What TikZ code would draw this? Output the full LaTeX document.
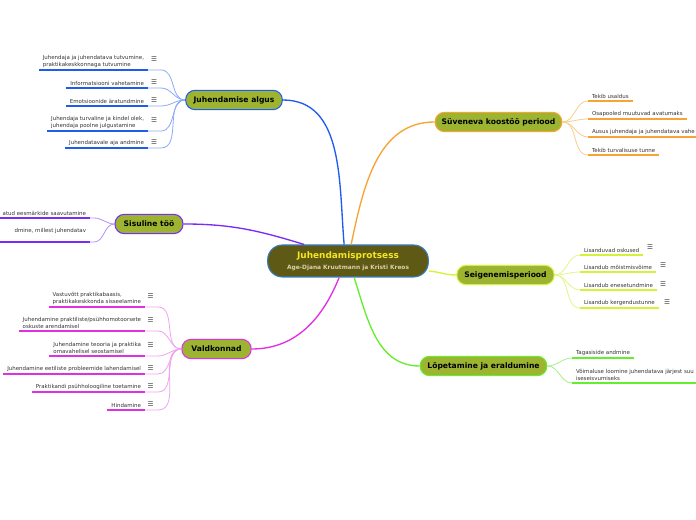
\documentclass[tikz,border=0pt]{standalone}
\usepackage{fontspec}
\setmainfont{DejaVu Sans}
\usetikzlibrary{calc}
\definecolor{blueM}{HTML}{1F5BEF}
\definecolor{blueT}{HTML}{8CAAF5}
\definecolor{purpM}{HTML}{7B2BF7}
\definecolor{purpT}{HTML}{B592FA}
\definecolor{magM}{HTML}{E030E6}
\definecolor{magT}{HTML}{F2A2F2}
\definecolor{oraM}{HTML}{F7A435}
\definecolor{oraT}{HTML}{F9CE8A}
\definecolor{yelM}{HTML}{D5F23A}
\definecolor{yelT}{HTML}{E3F58A}
\definecolor{greM}{HTML}{66EE2E}
\definecolor{greT}{HTML}{A6F08A}
\definecolor{topicf}{HTML}{9DB431}
\definecolor{cenf}{HTML}{5F5916}
\definecolor{cenb}{HTML}{3A7DC4}
\definecolor{titc}{HTML}{F5E71E}
\definecolor{subc}{HTML}{D9D3A6}
\definecolor{leafc}{HTML}{333333}
\definecolor{icoc}{HTML}{444444}
\begin{document}
\begin{tikzpicture}[x=0.75pt,y=0.75pt,
  leaf/.style={font=\fontsize{4.1}{5.3}\selectfont, text=leafc, align=left, inner xsep=3pt, inner ysep=1.6pt, outer sep=0pt},
  ico/.style={font=\fontsize{5}{5}\selectfont, text=icoc, inner sep=0pt},
  topic/.style={draw=#1, line width=0.8pt, fill=topicf, rounded corners=7pt, font=\fontsize{5.7}{6}\selectfont\bfseries, minimum height=14.5pt, inner xsep=3pt},
  ul/.style={line width=1.5pt, draw=#1},
  con/.style={line width=0.6pt, draw=#1},
  mainc/.style={line width=1pt, draw=#1}]
\useasboundingbox (0,0) rectangle (696,520);
\fill[white] (0,0) rectangle (696,520);

% centre
\node[draw=cenb, line width=0.8pt, fill=cenf, rounded corners=11pt, minimum width=120.5pt, minimum height=24pt, align=center, inner sep=1pt, font=\fontsize{5}{8.5}\selectfont] (cen) at (348,259)
  {{\fontsize{6.7}{8}\selectfont\bfseries\color{titc}Juhendamisprotsess}\\{\fontsize{4.4}{5}\selectfont\bfseries\color{subc}Age-Djana Kruutmann ja Kristi Kreos}};

% topics
\node[topic=blueM, minimum width=72.5pt] (algus) at (234,420) {Juhendamise algus};
\node[topic=purpM, minimum width=51pt] (sisu) at (149,296) {Sisuline töö};
\node[topic=magM, minimum width=52pt] (vald) at (216.5,171) {Valdkonnad};
\node[topic=oraM, minimum width=95pt] (suv) at (498.5,398) {Süveneva koostöö periood};
\node[topic=yelM, minimum width=73pt] (sei) at (505.5,245) {Seigenemisperiood};
\node[topic=greM, minimum width=95pt] (lop) at (483.5,154) {Lõpetamine ja eraldumine};

% main connectors
\draw[mainc=blueM] ($(cen.north west)+(77,0)$) to[out=95,in=0] (algus.east);
\draw[mainc=purpM] ($(cen.north west)+(37,0)$) to[out=163,in=0] (sisu.east);
\draw[mainc=magM] ($(cen.south west)+(72,0)$) to[out=-112,in=0] (vald.east);
\draw[mainc=oraM] ($(cen.north west)+(84,0)$) to[out=78,in=180] (suv.west);
\draw[mainc=yelM] ($(cen.east)+(0,-10)$) to[out=-5,in=180] (sei.west);
\draw[mainc=greM] ($(cen.south west)+(87,0)$) to[out=-72,in=180] (lop.west);

% ---- Juhendamise algus (blue)
\node[leaf,anchor=south east] (a1) at (148,450) {Juhendaja ja juhendatava tutvumine,\\praktikakeskkonnaga tutvumine};
\node[leaf,anchor=south east] (a2) at (148,432) {Informatsiooni vahetamine};
\node[leaf,anchor=south east] (a3) at (148,414) {Emotsioonide äratundmine};
\node[leaf,anchor=south east] (a4) at (148,389) {Juhendaja turvaline ja kindel olek,\\juhendaja poolne julgustamine};
\node[leaf,anchor=south east] (a5) at (148,372) {Juhendatavale aja andmine};
\foreach \n/\y in {a1/461,a2/438,a3/420,a4/400,a5/378}{
  \draw[ul=blueM] (\n.south west) -- (\n.south east);
  \node[ico] (\n i) at (154,\y) {☰};
  \draw[con=blueT] (\n.south east) -- ++(13,0) to[out=0,in=180] (algus.west);
}

% ---- Sisuline töö (purple)
\node[leaf,anchor=south east] (b1) at (90,302) {atud eesmärkide saavutamine};
\node[leaf,anchor=south east] (b2) at (90,278) {dmine, millest juhendatav\\{}};
\foreach \n in {b1,b2}{
  \draw[ul=purpM] ([xshift=-30pt]\n.south west) -- (\n.south east);
  \draw[con=purpT] (\n.south east) -- ++(4,0) to[out=0,in=180] (sisu.west);
}

% ---- Valdkonnad (magenta)
\node[leaf,anchor=south east] (c1) at (145,213) {Vastuvõtt praktikabaasis,\\praktikakeskkonda sisseelamine};
\node[leaf,anchor=south east] (c2) at (145,189) {Juhendamine praktiliste/psühhomotoorsete\\oskuste arendamisel};
\node[leaf,anchor=south east] (c3) at (145,164) {Juhendamine teooria ja praktika\\omavahelisel seostamisel};
\node[leaf,anchor=south east] (c4) at (145,146) {Juhendamine eetiliste probleemide lahendamisel};
\node[leaf,anchor=south east] (c5) at (145,128) {Praktikandi psühholoogiline toetamine};
\node[leaf,anchor=south east] (c6) at (145,110) {Hindamine};
\foreach \n/\y in {c1/224,c2/200,c3/175,c4/152,c5/134,c6/116}{
  \draw[ul=magM] (\n.south west) -- (\n.south east);
  \node[ico] (\n i) at (150.5,\y) {☰};
  \draw[con=magT] (\n.south east) -- ++(13,0) to[out=0,in=180] (vald.west);
}

% ---- Süveneva koostöö periood (orange)
\node[leaf,anchor=south west] (d1) at (588,419) {Tekib usaldus};
\node[leaf,anchor=south west] (d2) at (588,401) {Osapooled muutuvad avatumaks};
\node[leaf,anchor=south west] (d3) at (588,383) {Ausus juhendaja ja juhendatava vahe};
\node[leaf,anchor=south west] (d4) at (588,365) {Tekib turvalisuse tunne};
\foreach \n in {d1,d2,d4}{
  \draw[ul=oraM] (\n.south west) -- (\n.south east);
}
\draw[ul=oraM] (d3.south west) -- ([xshift=30pt]d3.south east);
\foreach \n in {d1,d2,d3,d4}{
  \draw[con=oraT] (suv.east) to[out=0,in=180] (\n.south west);
}

% ---- Seigenemisperiood (yellow-green)
\node[leaf,anchor=south west] (e1) at (580,265) {Lisanduvad oskused};
\node[leaf,anchor=south west] (e2) at (580,248) {Lisandub mõistmisvõime};
\node[leaf,anchor=south west] (e3) at (580,230) {Lisandub enesetundmine};
\node[leaf,anchor=south west] (e4) at (580,212) {Lisandub kergendustunne};
\foreach \n/\x/\y in {e1/650/273,e2/663/255,e3/663/236,e4/667/218}{
  \draw[ul=yelM] (\n.south west) -- (\n.south east);
  \node[ico] (\n i) at (\x,\y) {☰};
  \draw[con=yelT] (sei.east) to[out=0,in=180] (\n.south west);
}

% ---- Lõpetamine ja eraldumine (green)
\node[leaf,anchor=south west] (f1) at (572,162) {Tagasiside andmine};
\node[leaf,anchor=south west] (f2) at (572,137) {Võimaluse loomine juhendatava järjest suu\\iseseisvumiseks};
\draw[ul=greM] (f1.south west) -- (f1.south east);
\draw[ul=greM] (f2.south west) -- ([xshift=30pt]f2.south east);
\foreach \n in {f1,f2}{
  \draw[con=greT] (lop.east) to[out=0,in=180] (\n.south west);
}
\end{tikzpicture}
\end{document}
